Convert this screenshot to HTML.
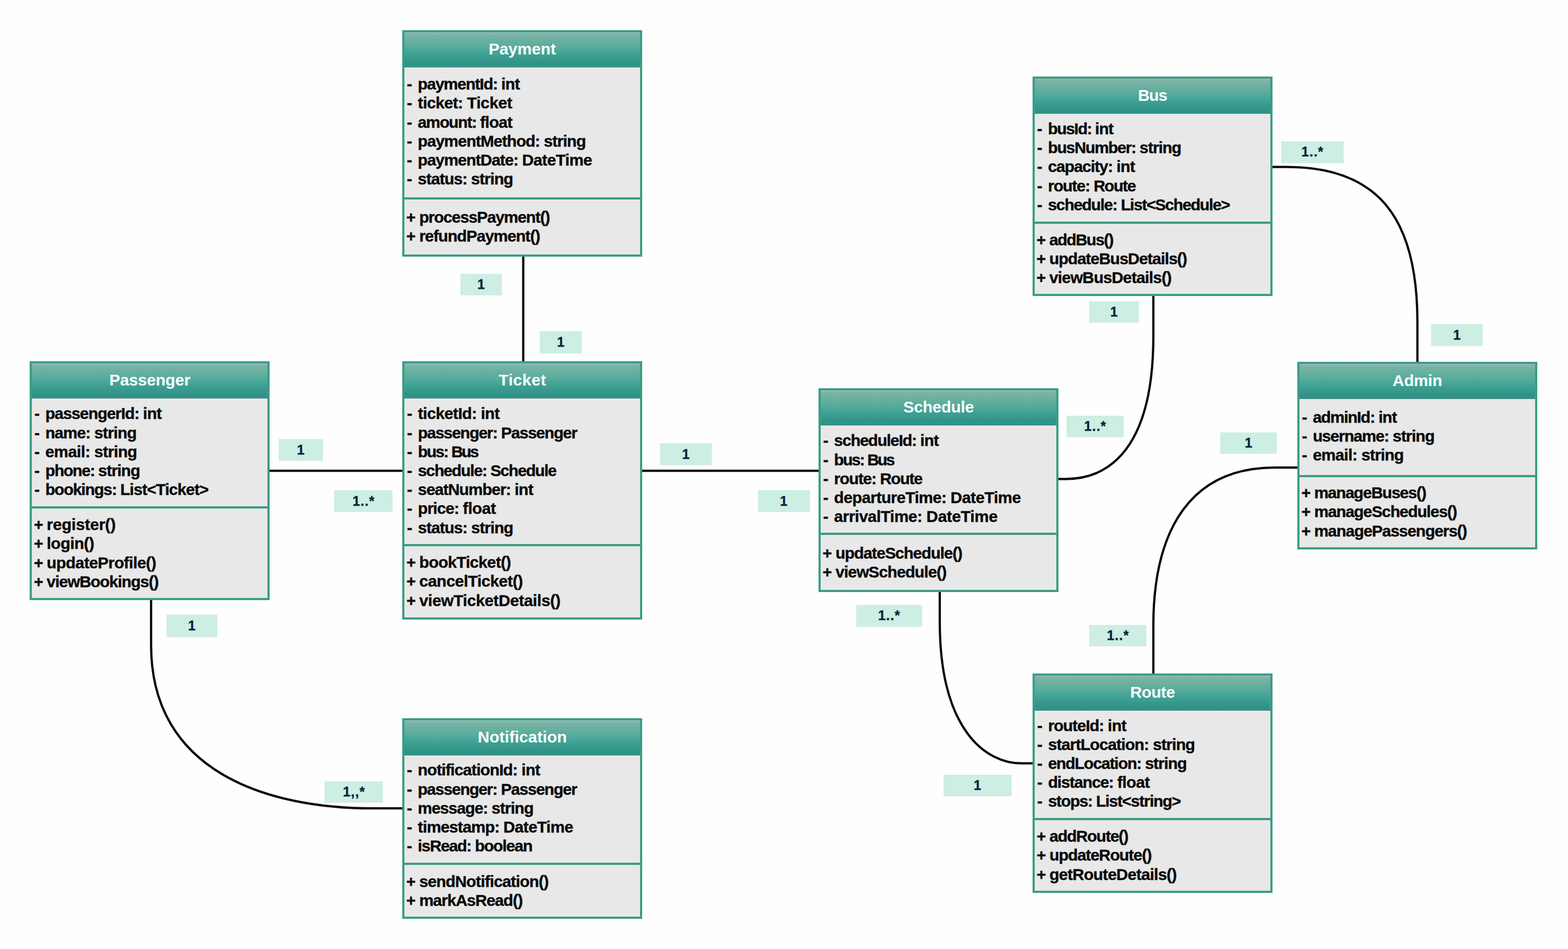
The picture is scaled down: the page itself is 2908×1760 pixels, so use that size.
<!DOCTYPE html>
<html lang="en">
<head>
<meta charset="utf-8">
<title>Bus Ticket Booking System - Class Diagram</title>
<style>
html,body{margin:0;padding:0;background:#fefefe;}
body{width:2908px;height:1760px;position:relative;overflow:hidden;font-family:"Liberation Sans",sans-serif;font-weight:bold;}
svg.wires{position:absolute;left:0;top:0;}
.box{position:absolute;box-sizing:border-box;border:4px solid #3c9c87;background:#e8e8e8;}
.hd{position:absolute;left:0;right:0;top:0;height:65px;background:linear-gradient(to bottom,#86b9ac 0%,#77b1a3 12%,#63b09f 28%,#58aa9b 45%,#47a79b 54%,#3c9f92 68%,#35978a 82%,#2f9287 92%,#31958a 100%);border-bottom:1.5px solid #437f76;box-shadow:inset 0 1px 0 rgba(255,255,255,0.18);box-sizing:border-box;}
.ttl{position:absolute;margin:0;white-space:pre;color:#fcfffe;font-size:30px;font-weight:bold;line-height:35.2px;}
.dv{position:absolute;left:0;right:0;height:4px;background:#3c9a82;}
.a,.m{position:absolute;white-space:pre;color:#0b0b0b;font-size:30px;line-height:35.2px;-webkit-text-stroke:0.45px #0b0b0b;}
.w{display:inline-block;white-space:pre;}
.lb{position:absolute;background:#cdeee3;box-shadow:0 1px 1px rgba(0,0,0,0.07);color:#0c2238;font-size:25px;white-space:pre;-webkit-text-stroke:0.4px #0c2238;}
.lb .w{position:absolute;}
</style>
</head>
<body>

<svg class="wires" width="2908" height="1760" viewBox="0 0 2908 1760" fill="none" stroke="#0a0a0a" stroke-width="4.2">
<path d="M970.4,474 L970.4,672"/>
<path d="M500,873.2 L748,873.2"/>
<path d="M1190,873.2 L1520,873.2"/>
<path d="M280.2,1111 L280.2,1196.6 C280.2,1432.5 497.1,1499.2 691.8,1499.2 L748,1499.2"/>
<path d="M1962,888.3 L1976.7,888.3 C2017.6,888.3 2139,875.9 2139,623 L2139,548"/>
<path d="M1742.9,1096 L1742.9,1152.7 C1742.9,1355.4 1829.4,1415.7 1894.5,1415.7 L1916,1415.7"/>
<path d="M2139,1250 L2139,1160.1 C2139,1012.4 2187.9,867.1 2364.2,867.1 L2407,867.1"/>
<path d="M2359,309.6 L2386.4,309.6 C2551.2,309.6 2628.7,398.8 2628.7,597 L2628.7,672"/>
</svg>
<section class="box" style="left:746.2px;top:56px;width:445px;height:419.5px">
<div class="hd"></div><h2 class="ttl" style="left:156.06px;top:13px"><span class="w" style="width:124.89px;letter-spacing:-0.03px">Payment</span></h2>
<div class="a" style="left:3.4px;top:78.25px"><span class="w" style="padding-left:1px;width:20.28px;letter-spacing:0.98px">- </span><span class="w" style="width:154.78px;letter-spacing:-1.23px">paymentId: </span><span class="w" style="width:34.09px;letter-spacing:-0.85px">int</span></div>
<div class="a" style="left:3.4px;top:113.45px"><span class="w" style="padding-left:1px;width:20.28px;letter-spacing:0.98px">- </span><span class="w" style="width:91.2px;letter-spacing:-0.69px">ticket: </span><span class="w" style="width:83.77px;letter-spacing:-0.4px">Ticket</span></div>
<div class="a" style="left:3.4px;top:148.66px"><span class="w" style="padding-left:1px;width:20.28px;letter-spacing:0.98px">- </span><span class="w" style="width:115.36px;letter-spacing:-1.41px">amount: </span><span class="w" style="width:59.82px;letter-spacing:-0.7px">float</span></div>
<div class="a" style="left:3.4px;top:183.86px"><span class="w" style="padding-left:1px;width:20.28px;letter-spacing:0.98px">- </span><span class="w" style="width:233.65px;letter-spacing:-0.98px">paymentMethod: </span><span class="w" style="width:77.63px;letter-spacing:-0.95px">string</span></div>
<div class="a" style="left:3.4px;top:219.06px"><span class="w" style="padding-left:1px;width:20.28px;letter-spacing:0.98px">- </span><span class="w" style="width:193.34px;letter-spacing:-1.03px">paymentDate: </span><span class="w" style="width:129.66px;letter-spacing:-0.61px">DateTime</span></div>
<div class="a" style="left:3.4px;top:254.25px"><span class="w" style="padding-left:1px;width:20.28px;letter-spacing:0.98px">- </span><span class="w" style="width:98.77px;letter-spacing:-0.99px">status: </span><span class="w" style="width:77.57px;letter-spacing:-0.96px">string</span></div>
<div class="dv" style="top:305.8px"></div>
<div class="m" style="left:3.4px;top:325.11px"><span class="w" style="width:23.81px;letter-spacing:-1.02px">+ </span><span class="w" style="width:242px;letter-spacing:-1.13px">processPayment()</span></div>
<div class="m" style="left:3.4px;top:360.31px"><span class="w" style="width:23.81px;letter-spacing:-1.02px">+ </span><span class="w" style="width:223.85px;letter-spacing:-0.97px">refundPayment()</span></div>
</section>
<section class="box" style="left:55.4px;top:670.4px;width:445px;height:442.6px">
<div class="hd"></div><h2 class="ttl" style="left:143.43px;top:13px"><span class="w" style="width:150.15px;letter-spacing:-0.18px">Passenger</span></h2>
<div class="a" style="left:3.4px;top:75px"><span class="w" style="padding-left:1px;width:20.28px;letter-spacing:0.98px">- </span><span class="w" style="width:180.99px;letter-spacing:-1.08px">passengerId: </span><span class="w" style="width:34.6px;letter-spacing:-0.69px">int</span></div>
<div class="a" style="left:3.4px;top:110.21px"><span class="w" style="padding-left:1px;width:20.28px;letter-spacing:0.98px">- </span><span class="w" style="width:90.65px;letter-spacing:-1.01px">name: </span><span class="w" style="width:78.18px;letter-spacing:-0.86px">string</span></div>
<div class="a" style="left:3.4px;top:145.4px"><span class="w" style="padding-left:1px;width:20.28px;letter-spacing:0.98px">- </span><span class="w" style="width:90.78px;letter-spacing:-0.61px">email: </span><span class="w" style="width:79.11px;letter-spacing:-0.71px">string</span></div>
<div class="a" style="left:3.4px;top:180.61px"><span class="w" style="padding-left:1px;width:20.28px;letter-spacing:0.98px">- </span><span class="w" style="width:97.98px;letter-spacing:-1.48px">phone: </span><span class="w" style="width:77.22px;letter-spacing:-1.02px">string</span></div>
<div class="a" style="left:3.4px;top:215.81px"><span class="w" style="padding-left:1px;width:20.28px;letter-spacing:0.98px">- </span><span class="w" style="width:138.84px;letter-spacing:-1.28px">bookings: </span><span class="w" style="width:163.41px;letter-spacing:-0.93px">List&lt;Ticket&gt;</span></div>
<div class="dv" style="top:264.6px"></div>
<div class="m" style="left:3.4px;top:280.71px"><span class="w" style="width:23.81px;letter-spacing:-1.02px">+ </span><span class="w" style="width:127.87px;letter-spacing:-0.22px">register()</span></div>
<div class="m" style="left:3.4px;top:315.91px"><span class="w" style="width:23.81px;letter-spacing:-1.02px">+ </span><span class="w" style="width:87.8px;letter-spacing:-0.55px">login()</span></div>
<div class="m" style="left:3.4px;top:351.11px"><span class="w" style="width:23.81px;letter-spacing:-1.02px">+ </span><span class="w" style="width:202.85px;letter-spacing:-0.59px">updateProfile()</span></div>
<div class="m" style="left:3.4px;top:386.31px"><span class="w" style="width:23.81px;letter-spacing:-1.02px">+ </span><span class="w" style="width:207.03px;letter-spacing:-1.05px">viewBookings()</span></div>
</section>
<section class="box" style="left:746.4px;top:670.4px;width:445px;height:478.2px">
<div class="hd"></div><h2 class="ttl" style="left:174.4px;top:13px"><span class="w" style="width:88.21px;letter-spacing:0.34px">Ticket</span></h2>
<div class="a" style="left:3.4px;top:75px"><span class="w" style="padding-left:1px;width:20.28px;letter-spacing:0.98px">- </span><span class="w" style="width:116.62px;letter-spacing:-0.67px">ticketId: </span><span class="w" style="width:34.69px;letter-spacing:-0.65px">int</span></div>
<div class="a" style="left:3.4px;top:110.21px"><span class="w" style="padding-left:1px;width:20.28px;letter-spacing:0.98px">- </span><span class="w" style="width:154.14px;letter-spacing:-1.3px">passenger: </span><span class="w" style="width:140.78px;letter-spacing:-1.22px">Passenger</span></div>
<div class="a" style="left:3.4px;top:145.4px"><span class="w" style="padding-left:1px;width:20.28px;letter-spacing:0.98px">- </span><span class="w" style="width:61.93px;letter-spacing:-1.95px">bus: </span><span class="w" style="width:48.93px;letter-spacing:-2.59px">Bus</span></div>
<div class="a" style="left:3.4px;top:180.61px"><span class="w" style="padding-left:1px;width:20.28px;letter-spacing:0.98px">- </span><span class="w" style="width:134.44px;letter-spacing:-1.39px">schedule: </span><span class="w" style="width:121.89px;letter-spacing:-1.44px">Schedule</span></div>
<div class="a" style="left:3.4px;top:215.81px"><span class="w" style="padding-left:1px;width:20.28px;letter-spacing:0.98px">- </span><span class="w" style="width:179.23px;letter-spacing:-1.04px">seatNumber: </span><span class="w" style="width:34.44px;letter-spacing:-0.74px">int</span></div>
<div class="a" style="left:3.4px;top:251px"><span class="w" style="padding-left:1px;width:20.28px;letter-spacing:0.98px">- </span><span class="w" style="width:83.26px;letter-spacing:-0.97px">price: </span><span class="w" style="width:61.32px;letter-spacing:-0.4px">float</span></div>
<div class="a" style="left:3.4px;top:286.21px"><span class="w" style="padding-left:1px;width:20.28px;letter-spacing:0.98px">- </span><span class="w" style="width:98.77px;letter-spacing:-0.99px">status: </span><span class="w" style="width:77.57px;letter-spacing:-0.96px">string</span></div>
<div class="dv" style="top:335.1px"></div>
<div class="m" style="left:3.4px;top:350.81px"><span class="w" style="width:23.81px;letter-spacing:-1.02px">+ </span><span class="w" style="width:169.73px;letter-spacing:-0.67px">bookTicket()</span></div>
<div class="m" style="left:3.4px;top:386.01px"><span class="w" style="width:23.81px;letter-spacing:-1.02px">+ </span><span class="w" style="width:192.05px;letter-spacing:-0.54px">cancelTicket()</span></div>
<div class="m" style="left:3.4px;top:421.21px"><span class="w" style="width:23.81px;letter-spacing:-1.02px">+ </span><span class="w" style="width:261.83px;letter-spacing:-0.41px">viewTicketDetails()</span></div>
</section>
<section class="box" style="left:1518.2px;top:720.2px;width:445px;height:377.6px">
<div class="hd"></div><h2 class="ttl" style="left:153.1px;top:13px"><span class="w" style="width:130.81px;letter-spacing:-0.32px">Schedule</span></h2>
<div class="a" style="left:3.4px;top:75.3px"><span class="w" style="padding-left:1px;width:20.28px;letter-spacing:0.98px">- </span><span class="w" style="width:159.75px;letter-spacing:-1.28px">scheduleId: </span><span class="w" style="width:34.13px;letter-spacing:-0.84px">int</span></div>
<div class="a" style="left:3.4px;top:110.5px"><span class="w" style="padding-left:1px;width:20.28px;letter-spacing:0.98px">- </span><span class="w" style="width:61.65px;letter-spacing:-2px">bus: </span><span class="w" style="width:48.71px;letter-spacing:-2.66px">Bus</span></div>
<div class="a" style="left:3.4px;top:145.7px"><span class="w" style="padding-left:1px;width:20.28px;letter-spacing:0.98px">- </span><span class="w" style="width:85.23px;letter-spacing:-1.16px">route: </span><span class="w" style="width:78.12px;letter-spacing:-1.38px">Route</span></div>
<div class="a" style="left:3.4px;top:180.9px"><span class="w" style="padding-left:1px;width:20.28px;letter-spacing:0.98px">- </span><span class="w" style="width:215.92px;letter-spacing:-0.68px">departureTime: </span><span class="w" style="width:130.44px;letter-spacing:-0.51px">DateTime</span></div>
<div class="a" style="left:3.4px;top:216.1px"><span class="w" style="padding-left:1px;width:20.28px;letter-spacing:0.98px">- </span><span class="w" style="width:171.26px;letter-spacing:-0.51px">arrivalTime: </span><span class="w" style="width:131.93px;letter-spacing:-0.32px">DateTime</span></div>
<div class="dv" style="top:263.8px"></div>
<div class="m" style="left:3.4px;top:283.8px"><span class="w" style="width:23.81px;letter-spacing:-1.02px">+ </span><span class="w" style="width:234.94px;letter-spacing:-1.05px">updateSchedule()</span></div>
<div class="m" style="left:3.4px;top:319px"><span class="w" style="width:23.81px;letter-spacing:-1.02px">+ </span><span class="w" style="width:205.83px;letter-spacing:-0.9px">viewSchedule()</span></div>
</section>
<section class="box" style="left:1914.8px;top:142.2px;width:445px;height:407.1px">
<div class="hd"></div><h2 class="ttl" style="left:191.61px;top:13px"><span class="w" style="width:53.77px;letter-spacing:-0.97px">Bus</span></h2>
<div class="a" style="left:3.4px;top:74.81px"><span class="w" style="padding-left:1px;width:20.28px;letter-spacing:0.98px">- </span><span class="w" style="width:87.42px;letter-spacing:-1.56px">busId: </span><span class="w" style="width:33.67px;letter-spacing:-1px">int</span></div>
<div class="a" style="left:3.4px;top:110px"><span class="w" style="padding-left:1px;width:20.28px;letter-spacing:0.98px">- </span><span class="w" style="width:169.92px;letter-spacing:-1.37px">busNumber: </span><span class="w" style="width:77.05px;letter-spacing:-1.05px">string</span></div>
<div class="a" style="left:3.4px;top:145.2px"><span class="w" style="padding-left:1px;width:20.28px;letter-spacing:0.98px">- </span><span class="w" style="width:127px;letter-spacing:-1.14px">capacity: </span><span class="w" style="width:34.28px;letter-spacing:-0.79px">int</span></div>
<div class="a" style="left:3.4px;top:180.41px"><span class="w" style="padding-left:1px;width:20.28px;letter-spacing:0.98px">- </span><span class="w" style="width:84.71px;letter-spacing:-1.23px">route: </span><span class="w" style="width:77.64px;letter-spacing:-1.47px">Route</span></div>
<div class="a" style="left:3.4px;top:215.61px"><span class="w" style="padding-left:1px;width:20.28px;letter-spacing:0.98px">- </span><span class="w" style="width:135.19px;letter-spacing:-1.32px">schedule: </span><span class="w" style="width:201.56px;letter-spacing:-1.44px">List&lt;Schedule&gt;</span></div>
<div class="dv" style="top:264.4px"></div>
<div class="m" style="left:3.4px;top:280.81px"><span class="w" style="width:23.81px;letter-spacing:-1.02px">+ </span><span class="w" style="width:118.22px;letter-spacing:-1.47px">addBus()</span></div>
<div class="m" style="left:3.4px;top:316px"><span class="w" style="width:23.81px;letter-spacing:-1.02px">+ </span><span class="w" style="width:255.05px;letter-spacing:-1.02px">updateBusDetails()</span></div>
<div class="m" style="left:3.4px;top:351.21px"><span class="w" style="width:23.81px;letter-spacing:-1.02px">+ </span><span class="w" style="width:226.44px;letter-spacing:-0.85px">viewBusDetails()</span></div>
</section>
<section class="box" style="left:2406px;top:670.7px;width:445px;height:348.3px">
<div class="hd"></div><h2 class="ttl" style="left:172.54px;top:13px"><span class="w" style="width:91.92px;letter-spacing:-0.28px">Admin</span></h2>
<div class="a" style="left:3.4px;top:81.3px"><span class="w" style="padding-left:1px;width:20.28px;letter-spacing:0.98px">- </span><span class="w" style="width:121.75px;letter-spacing:-1.29px">adminId: </span><span class="w" style="width:33.94px;letter-spacing:-0.91px">int</span></div>
<div class="a" style="left:3.4px;top:116.5px"><span class="w" style="padding-left:1px;width:20.28px;letter-spacing:0.98px">- </span><span class="w" style="width:148.07px;letter-spacing:-1.2px">username: </span><span class="w" style="width:77.25px;letter-spacing:-1.02px">string</span></div>
<div class="a" style="left:3.4px;top:151.7px"><span class="w" style="padding-left:1px;width:20.28px;letter-spacing:0.98px">- </span><span class="w" style="width:90.03px;letter-spacing:-0.72px">email: </span><span class="w" style="width:78.45px;letter-spacing:-0.82px">string</span></div>
<div class="dv" style="top:206.3px"></div>
<div class="m" style="left:3.4px;top:221.6px"><span class="w" style="width:23.81px;letter-spacing:-1.02px">+ </span><span class="w" style="width:207.25px;letter-spacing:-1.24px">manageBuses()</span></div>
<div class="m" style="left:3.4px;top:256.8px"><span class="w" style="width:23.81px;letter-spacing:-1.02px">+ </span><span class="w" style="width:264.62px;letter-spacing:-1.11px">manageSchedules()</span></div>
<div class="m" style="left:3.4px;top:292px"><span class="w" style="width:23.81px;letter-spacing:-1.02px">+ </span><span class="w" style="width:283.08px;letter-spacing:-1.04px">managePassengers()</span></div>
</section>
<section class="box" style="left:746.2px;top:1331.5px;width:445px;height:372px">
<div class="hd"></div><h2 class="ttl" style="left:135.78px;top:13px"><span class="w" style="width:165.44px;letter-spacing:0.04px">Notification</span></h2>
<div class="a" style="left:3.4px;top:74.91px"><span class="w" style="padding-left:1px;width:20.28px;letter-spacing:0.98px">- </span><span class="w" style="width:192.27px;letter-spacing:-0.9px">notificationId: </span><span class="w" style="width:34.39px;letter-spacing:-0.76px">int</span></div>
<div class="a" style="left:3.4px;top:110.11px"><span class="w" style="padding-left:1px;width:20.28px;letter-spacing:0.98px">- </span><span class="w" style="width:154.14px;letter-spacing:-1.3px">passenger: </span><span class="w" style="width:140.78px;letter-spacing:-1.22px">Passenger</span></div>
<div class="a" style="left:3.4px;top:145.31px"><span class="w" style="padding-left:1px;width:20.28px;letter-spacing:0.98px">- </span><span class="w" style="width:136.72px;letter-spacing:-1.11px">message: </span><span class="w" style="width:77.55px;letter-spacing:-0.97px">string</span></div>
<div class="a" style="left:3.4px;top:180.5px"><span class="w" style="padding-left:1px;width:20.28px;letter-spacing:0.98px">- </span><span class="w" style="width:158.74px;letter-spacing:-0.88px">timestamp: </span><span class="w" style="width:129.06px;letter-spacing:-0.68px">DateTime</span></div>
<div class="a" style="left:3.4px;top:215.71px"><span class="w" style="padding-left:1px;width:20.28px;letter-spacing:0.98px">- </span><span class="w" style="width:105.88px;letter-spacing:-1.36px">isRead: </span><span class="w" style="width:106.01px;letter-spacing:-1.29px">boolean</span></div>
<div class="dv" style="top:264.5px"></div>
<div class="m" style="left:3.4px;top:281.3px"><span class="w" style="width:23.81px;letter-spacing:-1.02px">+ </span><span class="w" style="width:239.86px;letter-spacing:-0.84px">sendNotification()</span></div>
<div class="m" style="left:3.4px;top:316.5px"><span class="w" style="width:23.81px;letter-spacing:-1.02px">+ </span><span class="w" style="width:191.52px;letter-spacing:-0.99px">markAsRead()</span></div>
</section>
<section class="box" style="left:1915px;top:1248.5px;width:445px;height:407px">
<div class="hd"></div><h2 class="ttl" style="left:176.98px;top:13px"><span class="w" style="width:83.04px;letter-spacing:-0.39px">Route</span></h2>
<div class="a" style="left:3.4px;top:75px"><span class="w" style="padding-left:1px;width:20.28px;letter-spacing:0.98px">- </span><span class="w" style="width:110.68px;letter-spacing:-1.04px">routeId: </span><span class="w" style="width:34.45px;letter-spacing:-0.74px">int</span></div>
<div class="a" style="left:3.4px;top:110.21px"><span class="w" style="padding-left:1px;width:20.28px;letter-spacing:0.98px">- </span><span class="w" style="width:194.31px;letter-spacing:-0.94px">startLocation: </span><span class="w" style="width:77.74px;letter-spacing:-0.93px">string</span></div>
<div class="a" style="left:3.4px;top:145.41px"><span class="w" style="padding-left:1px;width:20.28px;letter-spacing:0.98px">- </span><span class="w" style="width:179.72px;letter-spacing:-1.3px">endLocation: </span><span class="w" style="width:77.25px;letter-spacing:-1.02px">string</span></div>
<div class="a" style="left:3.4px;top:180.6px"><span class="w" style="padding-left:1px;width:20.28px;letter-spacing:0.98px">- </span><span class="w" style="width:128.29px;letter-spacing:-1.18px">distance: </span><span class="w" style="width:60.25px;letter-spacing:-0.62px">float</span></div>
<div class="a" style="left:3.4px;top:215.8px"><span class="w" style="padding-left:1px;width:20.28px;letter-spacing:0.98px">- </span><span class="w" style="width:89.03px;letter-spacing:-1.33px">stops: </span><span class="w" style="width:156.72px;letter-spacing:-1.25px">List&lt;string&gt;</span></div>
<div class="dv" style="top:264.5px"></div>
<div class="m" style="left:3.4px;top:280.75px"><span class="w" style="width:23.81px;letter-spacing:-1.02px">+ </span><span class="w" style="width:145.87px;letter-spacing:-1.24px">addRoute()</span></div>
<div class="m" style="left:3.4px;top:315.96px"><span class="w" style="width:23.81px;letter-spacing:-1.02px">+ </span><span class="w" style="width:189.31px;letter-spacing:-1.08px">updateRoute()</span></div>
<div class="m" style="left:3.4px;top:351.16px"><span class="w" style="width:23.81px;letter-spacing:-1.02px">+ </span><span class="w" style="width:235.92px;letter-spacing:-0.73px">getRouteDetails()</span></div>
</section>
<div class="lb" style="left:853.5px;top:507.5px;width:77.5px;height:39px;line-height:39px"><span class="w" style="left:31.8px;top:0">1</span></div>
<div class="lb" style="left:1001px;top:614px;width:78px;height:41px;line-height:41px"><span class="w" style="left:32.05px;top:0">1</span></div>
<div class="lb" style="left:517px;top:813.5px;width:81.5px;height:40px;line-height:40px"><span class="w" style="left:33.8px;top:0">1</span></div>
<div class="lb" style="left:620px;top:908.5px;width:108px;height:40.5px;line-height:40.5px"><span class="w" style="left:33.73px;top:0;letter-spacing:1px">1..*</span></div>
<div class="lb" style="left:308.5px;top:1140px;width:94.5px;height:40.5px;line-height:40.5px"><span class="w" style="left:40.3px;top:0">1</span></div>
<div class="lb" style="left:602px;top:1448.5px;width:108.3px;height:39.5px;line-height:39.5px"><span class="w" style="left:33.88px;top:0;letter-spacing:1px">1,,*</span></div>
<div class="lb" style="left:1224px;top:822px;width:96px;height:40px;line-height:40px"><span class="w" style="left:41.05px;top:0">1</span></div>
<div class="lb" style="left:1405.5px;top:908.5px;width:96px;height:40px;line-height:40px"><span class="w" style="left:41.05px;top:0">1</span></div>
<div class="lb" style="left:1978px;top:771px;width:105.7px;height:39px;line-height:39px"><span class="w" style="left:32.58px;top:0;letter-spacing:1px">1..*</span></div>
<div class="lb" style="left:1587.6px;top:1122px;width:122.2px;height:39.5px;line-height:39.5px"><span class="w" style="left:40.83px;top:0;letter-spacing:1px">1..*</span></div>
<div class="lb" style="left:2020px;top:1159.3px;width:105.9px;height:38.7px;line-height:38.7px"><span class="w" style="left:32.68px;top:0;letter-spacing:1px">1..*</span></div>
<div class="lb" style="left:2262.7px;top:802px;width:105.6px;height:39px;line-height:39px"><span class="w" style="left:45.85px;top:0">1</span></div>
<div class="lb" style="left:2375.8px;top:262px;width:116.1px;height:39.5px;line-height:39.5px"><span class="w" style="left:37.78px;top:0;letter-spacing:1px">1..*</span></div>
<div class="lb" style="left:2020px;top:559px;width:92px;height:39px;line-height:39px"><span class="w" style="left:39.05px;top:0">1</span></div>
<div class="lb" style="left:2654px;top:600.5px;width:95.7px;height:40.1px;line-height:40.1px"><span class="w" style="left:40.9px;top:0">1</span></div>
<div class="lb" style="left:1750px;top:1437px;width:125.5px;height:39px;line-height:39px"><span class="w" style="left:55.8px;top:0">1</span></div>
</body>
</html>
